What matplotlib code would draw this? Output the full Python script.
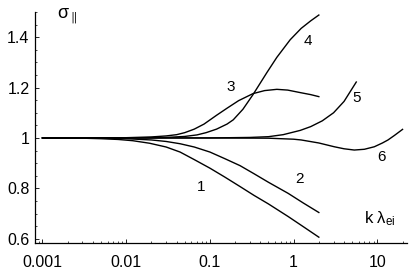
import matplotlib
matplotlib.use('Agg')
import matplotlib.pyplot as plt
import matplotlib.ticker as mticker

plt.rcParams['font.family'] = ['Liberation Sans', 'DejaVu Sans']
plt.rcParams['mathtext.fontset'] = 'custom'
plt.rcParams['mathtext.rm'] = 'Liberation Sans'
plt.rcParams['mathtext.it'] = 'Liberation Sans'

# curves (k lambda_ei, sigma_par)
k1 = [0.001, 0.003, 0.005, 0.008, 0.012, 0.019, 0.03, 0.044, 0.065, 0.1, 0.15, 0.229, 0.336, 0.5, 0.86, 1.3, 2.0]
s1 = [1.0, 0.999, 0.997, 0.994, 0.989, 0.979, 0.964, 0.944, 0.914, 0.88, 0.845, 0.807, 0.772, 0.738, 0.688, 0.648, 0.606]

k2 = [0.001, 0.005, 0.01, 0.02, 0.03, 0.044, 0.065, 0.1, 0.15, 0.229, 0.336, 0.5, 0.86, 1.3, 2.0]
s2 = [1.0, 0.999, 0.997, 0.992, 0.986, 0.977, 0.964, 0.944, 0.918, 0.89, 0.858, 0.824, 0.78, 0.742, 0.704]

k3 = [0.001, 0.01, 0.02, 0.03, 0.04, 0.05, 0.065, 0.085, 0.12, 0.16, 0.22, 0.327, 0.45, 0.63, 0.85, 1.2, 1.6, 2.0]
s3 = [1.0, 1.001, 1.004, 1.008, 1.013, 1.021, 1.035, 1.055, 1.09, 1.118, 1.148, 1.176, 1.188, 1.193, 1.19, 1.18, 1.172, 1.164]

k4 = [0.001, 0.01, 0.03, 0.05, 0.07, 0.09, 0.12, 0.16, 0.19, 0.248, 0.327, 0.48, 0.63, 0.91, 1.23, 1.6, 2.0]
s4 = [1.0, 1.0, 1.002, 1.006, 1.012, 1.021, 1.035, 1.055, 1.072, 1.114, 1.172, 1.26, 1.32, 1.39, 1.435, 1.465, 1.488]

k5 = [0.001, 0.01, 0.1, 0.3, 0.5, 0.75, 1.2, 1.6, 2.2, 3.0, 4.0, 5.6]
s5 = [1.0, 1.0, 1.0, 1.002, 1.005, 1.013, 1.03, 1.045, 1.068, 1.1, 1.145, 1.222]

k6 = [0.001, 0.01, 0.1, 0.5, 1.0, 1.23, 2.0, 3.06, 4.0, 5.3, 7.0, 9.2, 11.5, 13.4, 16.0, 20.0]
s6 = [1.0, 1.0, 1.0, 0.999, 0.995, 0.992, 0.98, 0.965, 0.957, 0.952, 0.955, 0.965, 0.98, 0.992, 1.01, 1.034]

curve_names = ['1', '2', '3', '4', '5', '6']
label_k = [0.078, 1.16, 0.178, 1.49, 5.6, 11.2]
label_s = [0.804, 0.836, 1.204, 1.384, 1.16, 0.924]

xticks = [0.001, 0.01, 0.1, 1, 10]
xticklabels = ['0.001', '0.01', '0.1', '1', '10']
yticks = [0.6, 0.8, 1.0, 1.2, 1.4]
yticklabels = ['0.6', '0.8', '1', '1.2', '1.4']

fig = plt.figure(figsize=(4.09, 2.73), dpi=100)
ax = fig.add_axes([0.0856, 0.11, 0.9095, 0.846])

for kk, ss in [(k1, s1), (k2, s2), (k3, s3), (k4, s4), (k5, s5), (k6, s6)]:
    ax.plot(kk, ss, color='black', lw=1.0)

for name, xk, ys in zip(curve_names, label_k, label_s):
    ax.text(xk, ys, name, fontsize=11, ha='center', va='center')

ax.set_xscale('log')
ax.set_xlim(8.14e-4, 22.6)
ax.set_ylim(0.583, 1.5)

ax.set_xticks(xticks)
ax.set_xticklabels(xticklabels)
ax.xaxis.set_minor_locator(mticker.LogLocator(base=10, subs=range(2, 10), numticks=20))
ax.xaxis.set_minor_formatter(mticker.NullFormatter())
ax.set_yticks(yticks)
ax.set_yticklabels(yticklabels)
ax.yaxis.set_minor_locator(mticker.MultipleLocator(0.05))

ax.tick_params(which='major', direction='in', length=3, width=0.6, labelsize=11.5)
ax.tick_params(axis='x', which='major', pad=9)
ax.tick_params(axis='y', which='major', pad=4)
ax.tick_params(which='minor', direction='in', length=1.5, width=0.5)

for side in ['top', 'right']:
    ax.spines[side].set_visible(False)
for side in ['left', 'bottom']:
    ax.spines[side].set_linewidth(0.9)

ax.text(0.00196, 1.485, r'$\sigma_{\parallel}$', fontsize=13, ha='center', va='center')
ax.text(10.8, 0.68, r'k $\lambda_{\rm ei}$', fontsize=12, ha='center', va='center')

fig.savefig('out.png', dpi=100)
